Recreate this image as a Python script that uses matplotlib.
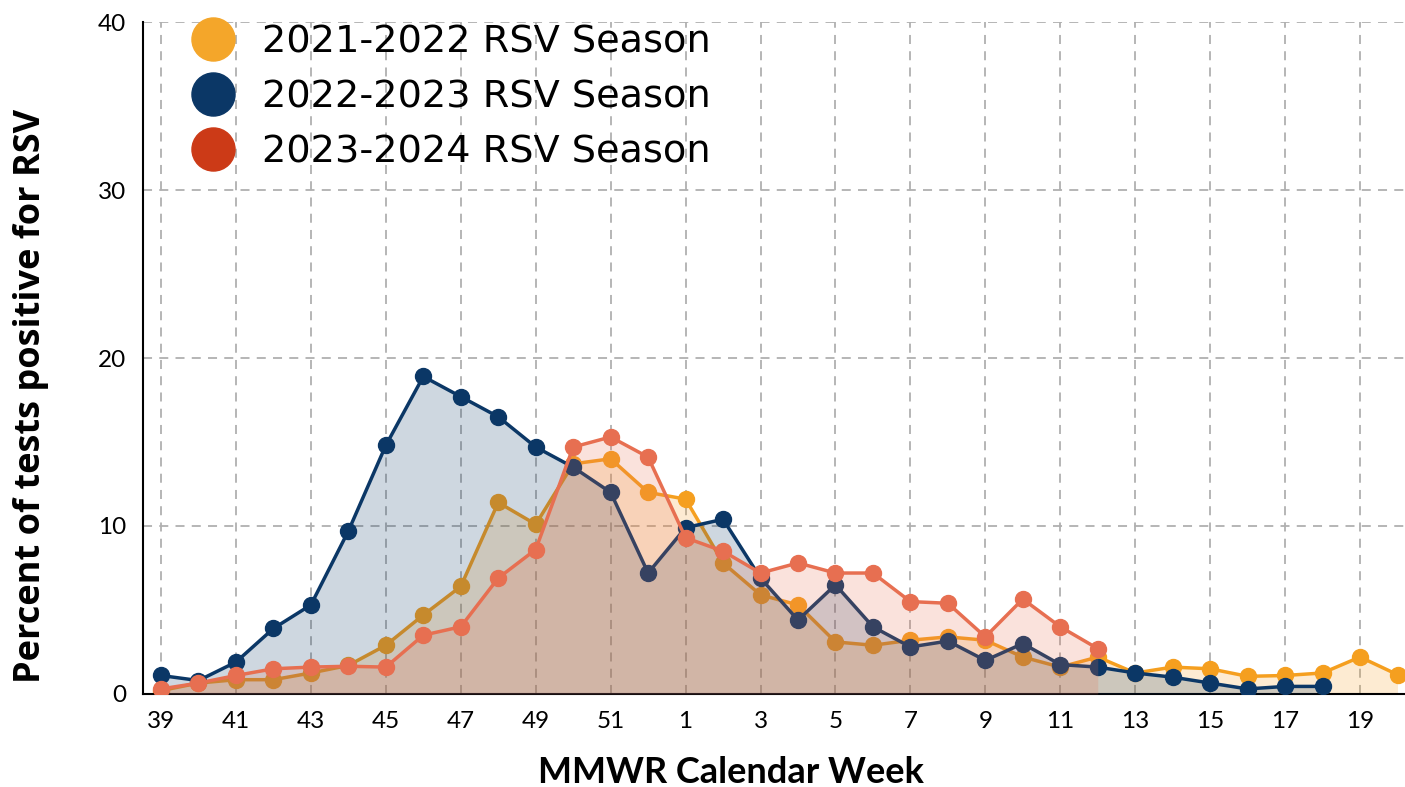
import numpy as np
import matplotlib
matplotlib.use("Agg")
import matplotlib.pyplot as plt
from matplotlib.lines import Line2D

# MMWR weeks, season runs from week 39 to week 20 of next year
weeks = list(range(39, 53)) + list(range(1, 21))
tick_weeks = [39, 41, 43, 45, 47, 49, 51, 1, 3, 5, 7, 9, 11, 13, 15, 17, 19]

s2122 = [0.2, 0.65, 0.85, 0.85, 1.25, 1.7, 2.9, 4.7, 6.4, 11.4, 10.1, 13.7, 14.0, 12.0,
         11.6, 7.8, 5.9, 5.3, 3.1, 2.9, 3.2, 3.4, 3.2, 2.2, 1.6, 2.2, 1.25, 1.6, 1.5,
         1.05, 1.1, 1.25, 2.2, 1.15]
s2223 = [1.1, 0.8, 1.9, 3.9, 5.3, 9.7, 14.8, 18.9, 17.7, 16.5, 14.7, 13.5, 12.0, 7.2,
         9.9, 10.4, 6.9, 4.4, 6.5, 4.0, 2.8, 3.15, 2.0, 3.0, 1.75, 1.6, 1.25, 1.0, 0.65,
         0.3, 0.45, 0.45]
s2324 = [0.3, 0.65, 1.1, 1.5, 1.6, 1.65, 1.6, 3.5, 4.0, 6.9, 8.6, 14.7, 15.3, 14.1,
         9.3, 8.5, 7.2, 7.8, 7.2, 7.2, 5.5, 5.4, 3.4, 5.65, 4.0, 2.7]

labels = ["2021-2022 RSV Season", "2022-2023 RSV Season", "2023-2024 RSV Season"]
line_cols = ["#F59F1F", "#0B3766", "#E76F51"]
legend_cols = ["#F4A62A", "#0B3766", "#CC3A17"]

fig = plt.figure(figsize=(14.05, 7.87), dpi=100)
ax = fig.add_axes([0.1018, 0.1182, 0.8982, 0.8538])

for i, s in enumerate([s2122, s2223, s2324]):
    x = np.arange(len(s))
    z = 2 + i
    ax.fill_between(x, 0, s, color=line_cols[i], alpha=0.2, lw=0, zorder=z)
    ax.plot(x, s, color=line_cols[i], lw=2.5, marker="o", ms=11.5, zorder=z)

ticks = [weeks.index(w) for w in tick_weeks]
ax.set_xticks(ticks)
ax.set_xticklabels([str(w) for w in tick_weeks], fontfamily="Lato", fontsize=17.5)
ax.set_yticks([0, 10, 20, 30, 40])
ax.set_yticklabels(["0", "10", "20", "30", "40"], fontfamily="Lato", fontsize=17.5)
ax.set_xlim(-0.48, 33.2)
ax.set_ylim(0, 40)
ax.tick_params(length=0, pad=12)
ax.grid(True, color="#b0b0b0", ls=(0, (5, 4)), lw=1.3, zorder=0)
ax.set_axisbelow(True)
for sp in ["top", "right"]:
    ax.spines[sp].set_visible(False)
ax.spines["left"].set_linewidth(1.5)
ax.spines["bottom"].set_linewidth(1.5)

ax.set_xlabel("MMWR Calendar Week", fontfamily="Lato", fontweight="bold", fontsize=26, va="center")
ax.xaxis.set_label_coords(0.466, -0.1176)
ax.set_ylabel("Percent of tests positive for RSV", fontfamily="Open Sans", fontweight="bold",
              fontsize=26, va="center")
ax.yaxis.set_label_coords(-0.0885, 0.4435)

handles = [Line2D([], [], ls="none", marker="o", ms=31, color=c) for c in legend_cols]
leg = ax.legend(handles, labels, loc="upper left", bbox_to_anchor=(0.0127, 1.0195), frameon=False,
                prop={"family": "DejaVu Sans", "size": 27.5}, handletextpad=0.3, labelspacing=0.5,
                borderaxespad=0)
leg.set_zorder(10)

fig.savefig("out.png", dpi=100)
